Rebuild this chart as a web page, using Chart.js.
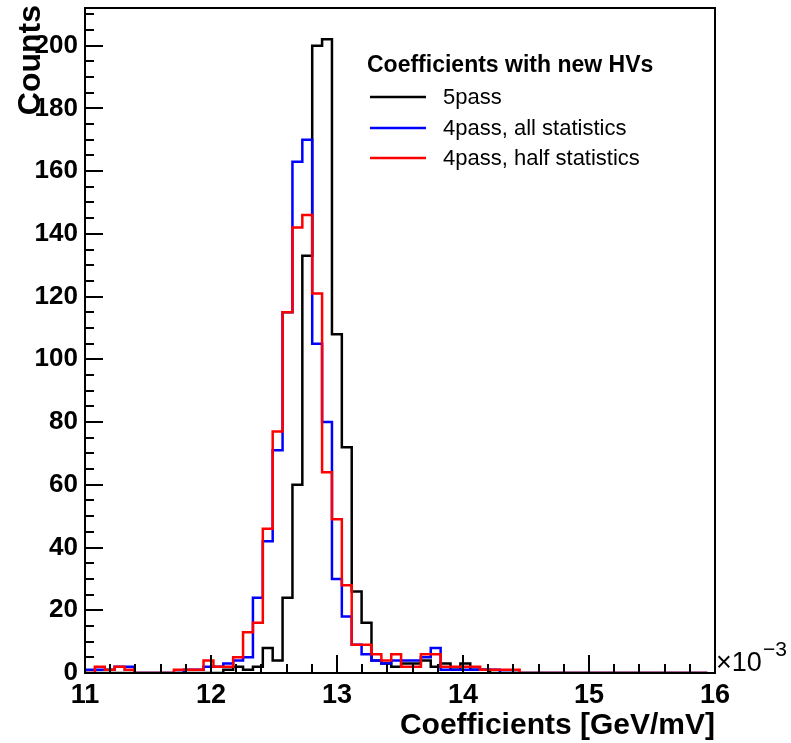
<!DOCTYPE html>
<html><head><meta charset="utf-8">
<script src="https://cdn.jsdelivr.net/npm/chart.js@4.4.1/dist/chart.umd.min.js"></script>
<style>html,body{margin:0;padding:0;background:#fff}#wrap{width:791px;height:743px;position:relative}</style>
</head><body><div id="wrap"><canvas id="c" width="791" height="743"></canvas></div>
<script>
// ---- data (x in units of 1e-3 GeV/mV) ----
const binStart = 11.0;
const binWidth = 0.0784;
const counts5pass = [0,0,0,0,0,0,0,0,0,0,0,0,0,0,1,2,1,2,8,4,24,60,133,200,202,108,72,26,16,4,3,2,3,3,4,2,3,1,3,1,1,0,0,0,0,0,0,0,0,0,0,0,0,0,0,0,0,0,0,0,0,0,0];
const countsAll   = [1,1,1,2,2,0,0,0,0,0,1,1,2,2,3,4,5,24,42,71,115,163,170,105,80,30,18,9,6,4,3,4,4,4,5,8,1,1,1,1,1,1,0,0,0,0,0,0,0,0,0,0,0,0,0,0,0,0,0,0,0,0,0];
const countsHalf  = [0,2,1,2,1,0,0,0,0,1,1,1,4,2,2,5,13,16,46,77,115,142,146,121,64,49,28,9,9,6,4,6,2,2,6,6,2,2,2,2,1,1,1,1,0,0,0,0,0,0,0,0,0,0,0,0,0,0,0,0,0,0,0];
const seriesLabels = ['5pass', '4pass, all statistics', '4pass, half statistics'];
const seriesColors = ['#000000', '#0000ff', '#ff0000'];
const legendTitle = 'Coefficients with new HVs';
const xTitle = 'Coefficients [GeV/mV]';
const yTitle = 'Counts';
const xTickValues = [11, 12, 13, 14, 15, 16];
const yTickValues = [0, 20, 40, 60, 80, 100, 120, 140, 160, 180, 200];
const xMin = 11, xMax = 16, yMin = 0, yMax = 212;

const FONT = "'Liberation Sans', Arial, Helvetica, sans-serif";

function histPoints(counts) {
  const pts = [{x: binStart, y: 0}];
  counts.forEach((c, k) => pts.push({x: binStart + k * binWidth, y: c}));
  pts.push({x: binStart + counts.length * binWidth, y: 0});
  return pts;
}

const rootStyle = {
  id: 'rootStyle',
  afterDatasetsDraw(chart) {
    const ctx = chart.ctx, xs = chart.scales.x, ys = chart.scales.y, a = chart.chartArea;
    ctx.save();
    ctx.strokeStyle = '#000'; ctx.lineWidth = 2; ctx.lineCap = 'butt';
    ctx.beginPath();
    for (let i = 0; i <= 25; i++) {
      const v = xMin + i * 0.2;
      const px = Math.round(xs.getPixelForValue(v));
      const len = (i % 5 === 0) ? 18 : 9;
      ctx.moveTo(px, a.bottom); ctx.lineTo(px, a.bottom - len);
    }
    for (let v = 0; v <= yMax; v += 5) {
      const py = Math.round(ys.getPixelForValue(v));
      const len = (v % 20 === 0) ? 18 : 9;
      ctx.moveTo(a.left, py); ctx.lineTo(a.left + len, py);
    }
    ctx.stroke();
    ctx.strokeRect(a.left, a.top, a.right - a.left, a.bottom - a.top);
    ctx.fillStyle = '#000';
    ctx.font = 'bold 30px ' + FONT;
    ctx.textAlign = 'right'; ctx.textBaseline = 'alphabetic';
    ctx.fillText(xTitle, a.right, 734);
    ctx.save();
    ctx.translate(31, 5); ctx.rotate(-Math.PI / 2);
    ctx.font = 'bold 32px ' + FONT;
    ctx.textAlign = 'right'; ctx.textBaseline = 'middle';
    ctx.fillText(yTitle, 0, 0);
    ctx.restore();
    ctx.font = '27px ' + FONT;
    ctx.textAlign = 'left'; ctx.textBaseline = 'alphabetic';
    ctx.fillText('\u00d710', 716, 671);
    ctx.font = '21px ' + FONT;
    ctx.fillText('\u22123', 763, 656);
    ctx.font = 'bold 23px ' + FONT;
    ctx.textAlign = 'left'; ctx.textBaseline = 'middle';
    ctx.fillText(legendTitle, 367, 66);
    const rows = [97, 128, 158];
    chart.data.datasets.forEach((ds, i) => {
      ctx.strokeStyle = ds.borderColor; ctx.lineWidth = 2.5;
      ctx.beginPath(); ctx.moveTo(370, rows[i]); ctx.lineTo(426, rows[i]); ctx.stroke();
      ctx.font = '22px ' + FONT;
      ctx.fillText(ds.label, 443, rows[i] + 1);
    });
    ctx.restore();
  }
};

function noPad(s) { s.paddingTop = 0; s.paddingBottom = 0; s.paddingLeft = 0; s.paddingRight = 0; }

new Chart(document.getElementById('c'), {
  type: 'line',
  data: {
    datasets: [
      {label: seriesLabels[0], data: histPoints(counts5pass), borderColor: seriesColors[0], order: 3},
      {label: seriesLabels[1], data: histPoints(countsAll), borderColor: seriesColors[1], order: 2},
      {label: seriesLabels[2], data: histPoints(countsHalf), borderColor: seriesColors[2], order: 1}
    ].map(d => Object.assign(d, {stepped: 'before', borderWidth: 2.5, pointRadius: 0, fill: false, tension: 0}))
  },
  options: {
    responsive: false, animation: false, devicePixelRatio: 1,
    layout: {padding: {top: 8, right: 76, left: 0, bottom: 0}},
    plugins: {legend: {display: false}, tooltip: {enabled: false}},
    scales: {
      x: {
        type: 'linear', min: xMin, max: xMax,
        grid: {display: false, drawTicks: false}, border: {display: false},
        afterBuildTicks: s => { s.ticks = xTickValues.map(v => ({value: v})); },
        afterFit: s => { s.height = 70; noPad(s); },
        ticks: {color: '#000', padding: 6, maxRotation: 0, autoSkip: false,
                font: {family: FONT, size: 27, weight: 'bold'}, callback: v => String(v)}
      },
      y: {
        type: 'linear', min: yMin, max: yMax,
        grid: {display: false, drawTicks: false}, border: {display: false},
        afterBuildTicks: s => { s.ticks = yTickValues.map(v => ({value: v})); },
        afterFit: s => { s.width = 85; noPad(s); },
        ticks: {color: '#000', padding: 7, autoSkip: false,
                font: {family: FONT, size: 26, weight: 'bold'}, callback: v => String(v)}
      }
    }
  },
  plugins: [rootStyle]
});
</script>
</body></html>
